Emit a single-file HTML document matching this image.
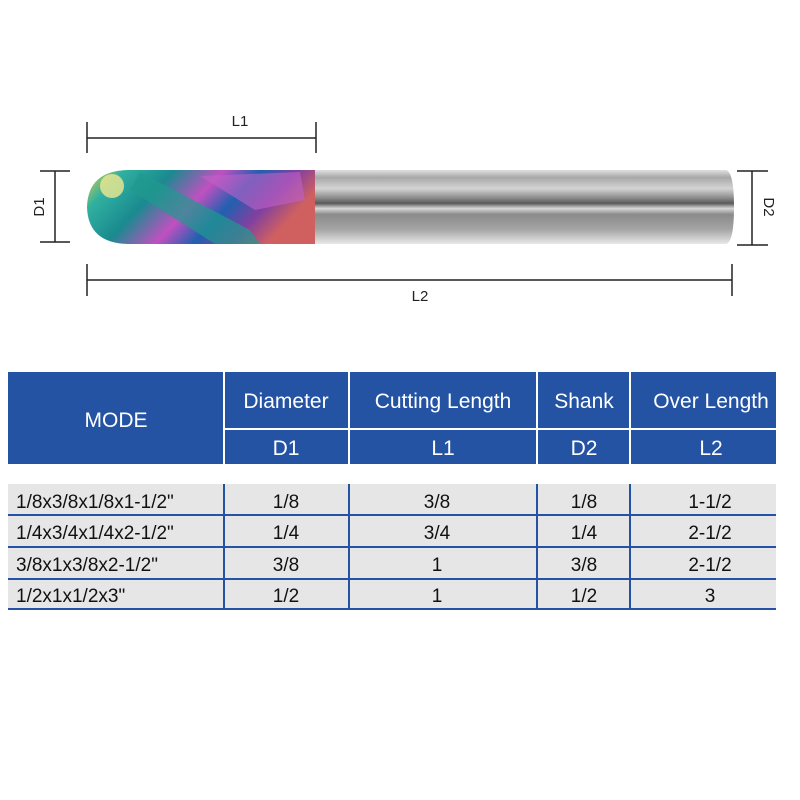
<!DOCTYPE html>
<html><head><meta charset="utf-8"><style>
html,body{margin:0;padding:0;background:#fff}
svg{display:block}
text{font-family:"Liberation Sans",Arial,sans-serif}
</style></head><body>
<svg width="800" height="800" viewBox="0 0 800 800" xmlns="http://www.w3.org/2000/svg">
<defs>
<linearGradient id="sh" x1="0" y1="0" x2="0" y2="1">
<stop offset="0" stop-color="#e0e0e0"/><stop offset="0.1" stop-color="#a8a8a8"/>
<stop offset="0.25" stop-color="#d4d4d4"/><stop offset="0.38" stop-color="#8a8a8a"/>
<stop offset="0.45" stop-color="#5a5a5a"/><stop offset="0.52" stop-color="#d8d8d8"/>
<stop offset="0.6" stop-color="#8a8a8a"/><stop offset="0.8" stop-color="#a4a4a4"/>
<stop offset="0.92" stop-color="#cccccc"/><stop offset="1" stop-color="#e8e8e8"/>
</linearGradient>
<linearGradient id="fl" x1="0" y1="0" x2="1" y2="0.3">
<stop offset="0" stop-color="#e8d040"/><stop offset="0.15" stop-color="#30b0a0"/>
<stop offset="0.35" stop-color="#1a8a90"/><stop offset="0.55" stop-color="#c050c0"/>
<stop offset="0.7" stop-color="#2060b0"/><stop offset="0.85" stop-color="#8040a0"/>
<stop offset="1" stop-color="#d06060"/>
</linearGradient>
</defs>
<g stroke="#222" stroke-width="1.5" fill="none">
<line x1="87" y1="122" x2="87" y2="153"/><line x1="316" y1="122" x2="316" y2="153"/><line x1="87" y1="138" x2="316" y2="138"/>
<line x1="40" y1="171" x2="70" y2="171"/><line x1="40" y1="242" x2="70" y2="242"/><line x1="55" y1="171" x2="55" y2="242"/>
<line x1="737" y1="171" x2="768" y2="171"/><line x1="737" y1="245" x2="768" y2="245"/><line x1="752" y1="171" x2="752" y2="245"/>
<line x1="87" y1="264" x2="87" y2="296"/><line x1="732" y1="264" x2="732" y2="296"/><line x1="87" y1="280" x2="732" y2="280"/>
</g>
<text x="240" y="126" font-size="15" text-anchor="middle" fill="#222">L1</text>
<text x="420" y="301" font-size="15" text-anchor="middle" fill="#222">L2</text>
<text transform="translate(44,207) rotate(-90)" font-size="15" text-anchor="middle" fill="#222">D1</text>
<text transform="translate(764,207) rotate(90)" font-size="15" text-anchor="middle" fill="#222">D2</text>
<path d="M315 170 H726 Q734 172 734 207 Q734 242 726 244 H315 Z" fill="url(#sh)"/>
<path d="M130 170 H315 V244 H130 Q88 244 87 207 Q88 170 130 170 Z" fill="url(#fl)"/>
<path d="M140 172 L250 230 L260 244 L215 244 L130 190 Z" fill="#1f9a8f" opacity="0.7"/>
<path d="M200 176 L300 172 L305 200 L255 210 Z" fill="#c060c8" opacity="0.6"/>
<circle cx="112" cy="186" r="12" fill="#f0e890" opacity="0.8"/>
<rect x="8" y="372" width="768" height="92" fill="#2553a3"/>
<g stroke="#fff" stroke-width="2">
<line x1="224" y1="372" x2="224" y2="464"/><line x1="349" y1="372" x2="349" y2="464"/>
<line x1="537" y1="372" x2="537" y2="464"/><line x1="630" y1="372" x2="630" y2="464"/>
<line x1="224" y1="429" x2="776" y2="429"/>
</g>
<g fill="#fff" font-size="21" text-anchor="middle">
<text x="116" y="427">MODE</text>
<text x="286" y="408">Diameter</text><text x="443" y="408">Cutting Length</text>
<text x="584" y="408">Shank</text><text x="711" y="408">Over Length</text>
<text x="286" y="455">D1</text><text x="443" y="455">L1</text>
<text x="584" y="455">D2</text><text x="711" y="455">L2</text>
</g>
<rect x="8" y="484" width="768" height="124" fill="#e6e6e6"/>
<g stroke="#2553a3" stroke-width="2">
<line x1="8" y1="515" x2="776" y2="515"/><line x1="8" y1="547" x2="776" y2="547"/>
<line x1="8" y1="579" x2="776" y2="579"/><line x1="8" y1="609" x2="776" y2="609"/>
<line x1="224" y1="484" x2="224" y2="609"/><line x1="349" y1="484" x2="349" y2="609"/>
<line x1="537" y1="484" x2="537" y2="609"/><line x1="630" y1="484" x2="630" y2="609"/>
</g>
<g fill="#111" font-size="19">
<text x="16" y="508">1/8x3/8x1/8x1-1/2"</text>
<text x="16" y="539">1/4x3/4x1/4x2-1/2"</text>
<text x="16" y="571">3/8x1x3/8x2-1/2"</text>
<text x="16" y="602">1/2x1x1/2x3"</text>
</g>
<g fill="#111" font-size="19" text-anchor="middle">
<text x="286" y="508">1/8</text><text x="437" y="508">3/8</text><text x="584" y="508">1/8</text><text x="710" y="508">1-1/2</text>
<text x="286" y="539">1/4</text><text x="437" y="539">3/4</text><text x="584" y="539">1/4</text><text x="710" y="539">2-1/2</text>
<text x="286" y="571">3/8</text><text x="437" y="571">1</text><text x="584" y="571">3/8</text><text x="710" y="571">2-1/2</text>
<text x="286" y="602">1/2</text><text x="437" y="602">1</text><text x="584" y="602">1/2</text><text x="710" y="602">3</text>
</g>
</svg>
</body></html>
